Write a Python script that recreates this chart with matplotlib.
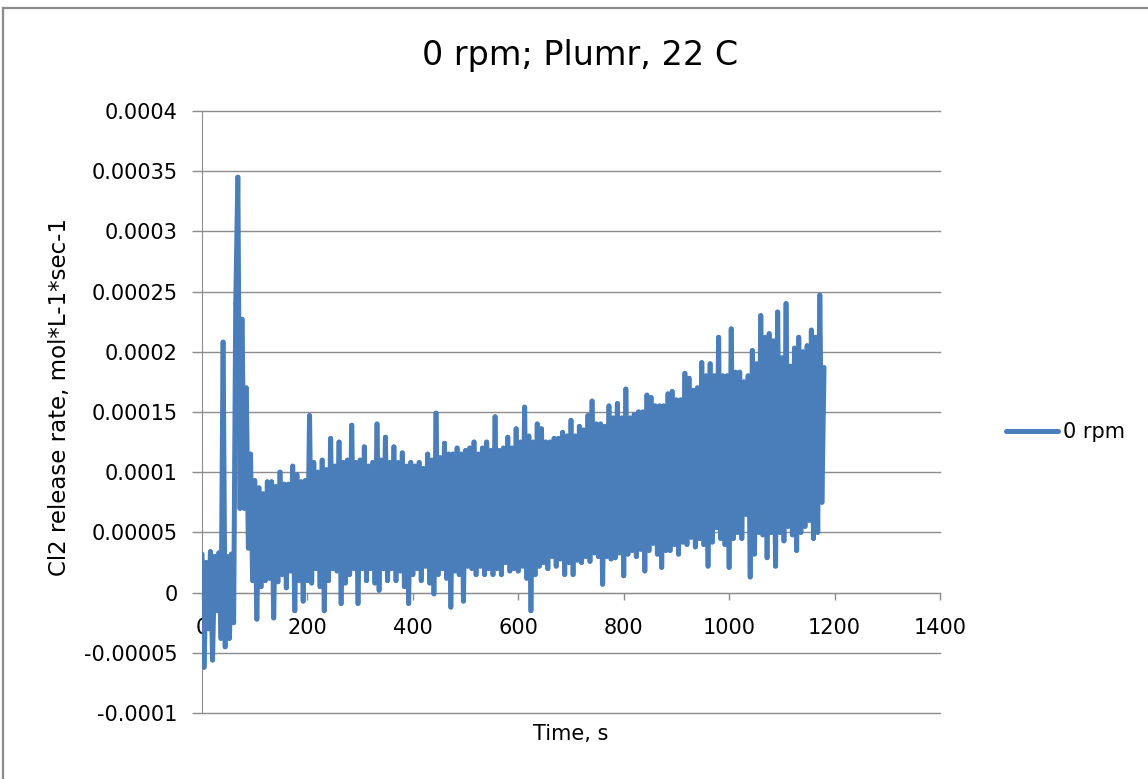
import numpy as np
import matplotlib
matplotlib.use("Agg")
import matplotlib.pyplot as plt
from matplotlib.lines import Line2D
from matplotlib.collections import LineCollection

plt.rcParams['font.family'] = ['DejaVu Sans']

# Cl2 release rate, in units of 1e-5 mol*L-1*sec-1, logged every 4 s
sample_step_s = 4
cl2_rate_e5 = [
    3.2, -6.2, 2.5, -3.0, 3.4, -5.6, 3.0, -1.5, 3.3, -3.8,
    20.8, -4.5, 3.0, -3.8, 3.2, -2.5, 24.0, 34.5, 7.0, 22.7,
    7.0, 17.0, 3.7, 11.5, 1.0, 9.3, -2.2, 8.7, 0.5, 8.2,
    1.0, 9.2, 1.2, 9.2, -2.1, 8.8, 0.9, 10.0, 1.5, 9.0,
    0.4, 9.0, 1.8, 10.5, -1.5, 9.8, 1.0, 9.2, -0.7, 9.3,
    1.0, 14.7, 0.8, 10.8, 2.0, 10.0, 0.5, 11.0, -1.5, 10.2,
    1.0, 12.8, 2.0, 10.5, 1.8, 12.5, -0.9, 10.8, 0.8, 11.0,
    1.5, 13.9, 2.0, 10.8, -0.9, 11.0, 2.0, 12.1, 1.0, 10.5,
    2.0, 10.8, 0.8, 14.0, 0.2, 11.0, 2.0, 12.9, 1.0, 10.8,
    2.0, 12.1, 1.0, 10.8, 1.8, 11.6, 0.5, 10.5, -0.9, 10.8,
    1.5, 10.5, 2.0, 10.8, 1.0, 10.3, 2.2, 11.5, 0.8, 11.0,
    -0.1, 14.9, 1.5, 11.2, 2.0, 12.4, 1.2, 11.5, -1.2, 11.5,
    1.8, 12.0, 1.5, 11.5, -0.7, 11.8, 2.2, 12.0, 2.0, 12.5,
    1.5, 11.5, 2.2, 12.0, 1.5, 12.5, 2.0, 11.8, 1.5, 14.6,
    2.0, 11.8, 1.5, 12.0, 2.5, 12.9, 1.8, 12.0, 2.0, 13.6,
    1.8, 12.5, 2.2, 15.4, 1.2, 13.0, -1.5, 12.5, 1.5, 14.0,
    2.2, 13.6, 2.5, 12.5, 2.0, 12.5, 3.0, 12.8, 2.2, 12.8,
    2.8, 13.3, 1.5, 13.0, 2.5, 14.3, 1.5, 13.0, 2.7, 13.8,
    2.5, 13.5, 3.0, 14.7, 2.6, 15.9, 3.3, 14.0, 3.0, 14.0,
    0.7, 13.8, 3.0, 15.5, 2.8, 14.5, 2.9, 15.7, 3.3, 14.5,
    1.4, 16.9, 3.2, 14.5, 3.5, 14.8, 3.0, 15.0, 3.6, 15.0,
    1.8, 16.4, 3.5, 16.2, 4.1, 15.5, 3.2, 15.5, 2.1, 15.5,
    3.5, 16.5, 3.5, 16.7, 4.0, 16.0, 3.2, 16.0, 4.2, 18.2,
    4.0, 17.8, 4.6, 16.8, 3.8, 17.0, 4.5, 19.1, 4.0, 18.0,
    2.2, 19.0, 4.2, 18.0, 5.4, 21.2, 4.5, 18.0, 4.0, 18.0,
    2.1, 21.9, 4.5, 18.3, 5.0, 18.3, 4.5, 17.5, 6.5, 18.0,
    1.3, 20.1, 3.2, 19.0, 5.0, 23.0, 4.8, 21.2, 2.9, 21.5,
    5.0, 20.9, 2.2, 23.3, 5.0, 19.5, 4.3, 24.0, 5.5, 18.8,
    4.8, 20.3, 3.5, 21.2, 5.0, 20.0, 5.5, 20.5, 6.0, 21.8,
    4.5, 21.2, 5.0, 24.7, 7.5, 18.7,
]

series_label = "0 rpm"
title_text = "0 rpm; Plumr, 22 C"
x_label = "Time, s"
y_label = "Cl2 release rate, mol*L-1*sec-1"

x_ticks = [0, 200, 400, 600, 800, 1000, 1200, 1400]
y_ticks = [-0.0001, -0.00005, 0, 0.00005, 0.0001, 0.00015,
           0.0002, 0.00025, 0.0003, 0.00035, 0.0004]
y_tick_labels = ["-0.0001", "-0.00005", "0", "0.00005", "0.0001", "0.00015",
                 "0.0002", "0.00025", "0.0003", "0.00035", "0.0004"]

cl2_rate = np.array(cl2_rate_e5) * 1e-5
time_s = np.arange(len(cl2_rate)) * sample_step_s

W, H = 1148, 779
line_blue = "#4A7EBB"
grid_grey = "#8C8C8C"
line_width = 3.6

fig = plt.figure(figsize=(W / 100, H / 100), dpi=100)
fig.patch.set_facecolor("white")

# chart-area frame (left and top edges)
fig.add_artist(Line2D([3 / W, 3 / W], [0, 1 - 8 / H], transform=fig.transFigure,
                      color=grid_grey, lw=1.6))
fig.add_artist(Line2D([3 / W, 1], [1 - 8 / H, 1 - 8 / H], transform=fig.transFigure,
                      color=grid_grey, lw=1.6))

ax = fig.add_axes([202 / W, 1 - 713 / H, (940 - 202) / W, (713 - 111) / H])
ax.set_facecolor("none")

for yv in y_ticks:
    ax.axhline(yv, color=grid_grey, lw=1.0, zorder=1, clip_on=False)

# each step of the trace is stroked on its own so the dense zigzag stays solid
points = np.column_stack([time_s, cl2_rate])
segments = np.stack([points[:-1], points[1:]], axis=1)
trace = LineCollection(segments, colors=line_blue, linewidths=line_width,
                       capstyle="round", joinstyle="round", zorder=2)
ax.add_collection(trace)

ax.set_xlim(0, 1400)
ax.set_ylim(-0.0001, 0.0004)
ax.set_xticks(x_ticks)
ax.set_xticklabels([str(v) for v in x_ticks])
ax.set_yticks(y_ticks)
ax.set_yticklabels(y_tick_labels)

for side in ("top", "right"):
    ax.spines[side].set_visible(False)
ax.spines["bottom"].set_position(("data", 0))
ax.spines["bottom"].set_color(grid_grey)
ax.spines["bottom"].set_zorder(1)
ax.spines["left"].set_color(grid_grey)
ax.spines["left"].set_zorder(1)

ax.tick_params(axis="y", direction="out", length=7, width=1, color=grid_grey,
               pad=10.5, labelsize=15, labelcolor="black")
ax.tick_params(axis="x", direction="out", length=5, width=1, color=grid_grey,
               pad=13, labelsize=15, labelcolor="black")

fig.text(580 / W, 1 - 56 / H, title_text, ha="center", va="center", fontsize=24)
fig.text(571 / W, 1 - 734 / H, x_label, ha="center", va="center", fontsize=15)
fig.text(60 / W, 1 - 397 / H, y_label, rotation=90, ha="center", va="center",
         fontsize=16.5)

legend_handle = Line2D([], [], color=line_blue, lw=line_width,
                       solid_capstyle="round", label=series_label)
ax.legend(handles=[legend_handle], loc="center left",
          bbox_to_anchor=(1006 / W, 1 - 432 / H),
          bbox_transform=fig.transFigure, frameon=False, handlelength=2.5,
          handletextpad=0.25, borderpad=0, borderaxespad=0, fontsize=15)

fig.savefig("out.png", dpi=100)
